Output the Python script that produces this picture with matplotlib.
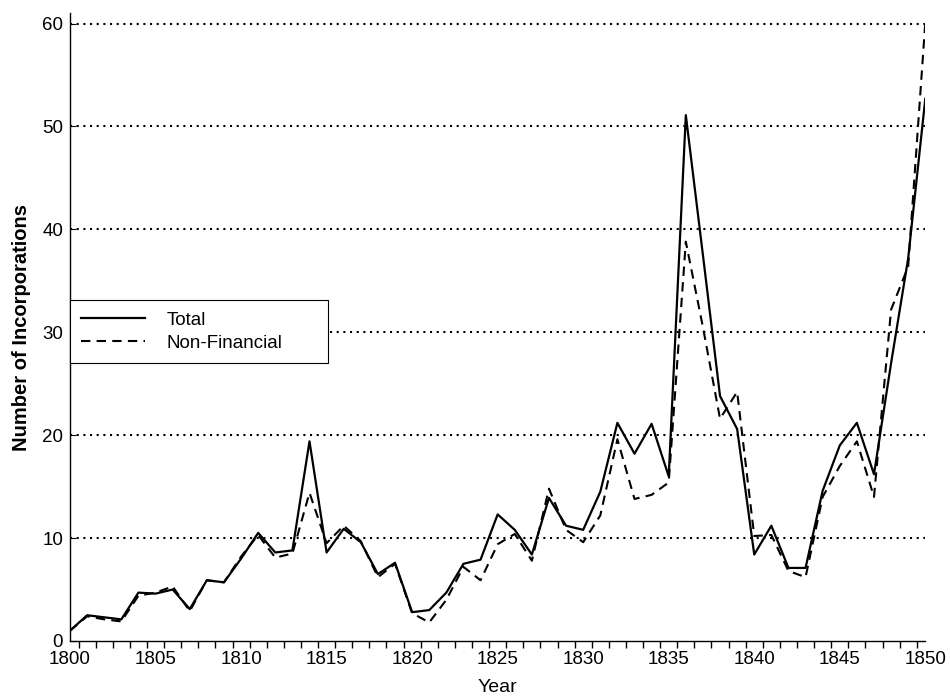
import matplotlib
matplotlib.use("Agg")
import matplotlib.pyplot as plt
from matplotlib.ticker import FixedLocator

years = list(range(1800, 1851))
total = [1.0, 2.5, 2.3, 2.1, 4.7, 4.6, 5.0, 3.1, 5.9, 5.7,
         8.0, 10.5, 8.6, 8.8, 19.4, 8.6, 10.9, 9.6, 6.5, 7.6,
         2.8, 3.0, 4.7, 7.5, 7.9, 12.3, 10.8, 8.4, 13.9, 11.2,
         10.8, 14.5, 21.2, 18.2, 21.1, 16.0, 51.1, 37.5, 23.8, 20.6,
         8.4, 11.2, 7.1, 7.1, 14.6, 19.0, 21.2, 16.2, 27.0, 37.2,
         52.7]
nonfin = [1.0, 2.4, 2.1, 1.9, 4.4, 4.7, 5.3, 2.9, 5.9, 5.7,
          8.2, 10.3, 8.1, 8.5, 14.4, 9.5, 11.2, 9.7, 6.2, 7.5,
          2.7, 1.8, 4.0, 7.2, 5.9, 9.4, 10.4, 7.8, 14.8, 10.8,
          9.6, 12.2, 19.6, 13.8, 14.2, 15.4, 38.8, 30.5, 21.6, 24.2,
          10.2, 10.3, 6.8, 6.2, 14.0, 17.0, 19.4, 14.0, 32.2, 36.4,
          60.1]
yticks = [0, 10, 20, 30, 40, 50, 60]
xticks = [1800, 1805, 1810, 1815, 1820, 1825, 1830, 1835, 1840, 1845, 1850]

plt.rcParams['font.family'] = ['Liberation Sans', 'DejaVu Sans']

fig = plt.figure(figsize=(9.5, 6.98), dpi=100)
ax = fig.add_axes([0.0737, 0.0817, 0.9003, 0.8993])

for y in yticks[1:]:
    ax.axhline(y, color='black', linestyle=(0, (1, 2.2)), linewidth=1.5, zorder=1)

ax.plot(years, total, color='black', linewidth=1.6, label='Total', zorder=3)
ax.plot(years, nonfin, color='black', linewidth=1.5, linestyle=(0, (4.5, 3)),
        label='Non-Financial', zorder=2)

ax.set_xlim(1800, 1850)
ax.set_ylim(0, 61)
ax.set_xticks(xticks)
ax.xaxis.set_minor_locator(FixedLocator([y + 0.5 for y in years[:-1]]))
ax.set_yticks(yticks)
ax.tick_params(axis='x', which='major', length=0, labelsize=13.5, pad=7)
ax.tick_params(axis='x', which='minor', direction='out', length=5, width=1)
ax.tick_params(axis='y', which='both', direction='in', length=4, labelsize=13.5, pad=5)

for s in ['top', 'right']:
    ax.spines[s].set_visible(False)
for s in ['left', 'bottom']:
    ax.spines[s].set_linewidth(1.0)

ax.set_xlabel('Year', fontsize=14, labelpad=8)
ax.set_ylabel('Number of Incorporations', fontsize=14.5, fontweight='bold', labelpad=8)

leg = ax.legend(loc='lower left', bbox_to_anchor=(0.0, 0.4427, 0.302, 0.113), mode='expand',
                fontsize=13.5, frameon=True, fancybox=False, handlelength=3.4,
                borderaxespad=0, borderpad=0.6, labelspacing=0.33, handletextpad=1.17)
leg.get_frame().set_edgecolor('black')
leg.get_frame().set_linewidth(0.8)
leg.get_frame().set_alpha(1)

fig.savefig('out.png', dpi=100)
